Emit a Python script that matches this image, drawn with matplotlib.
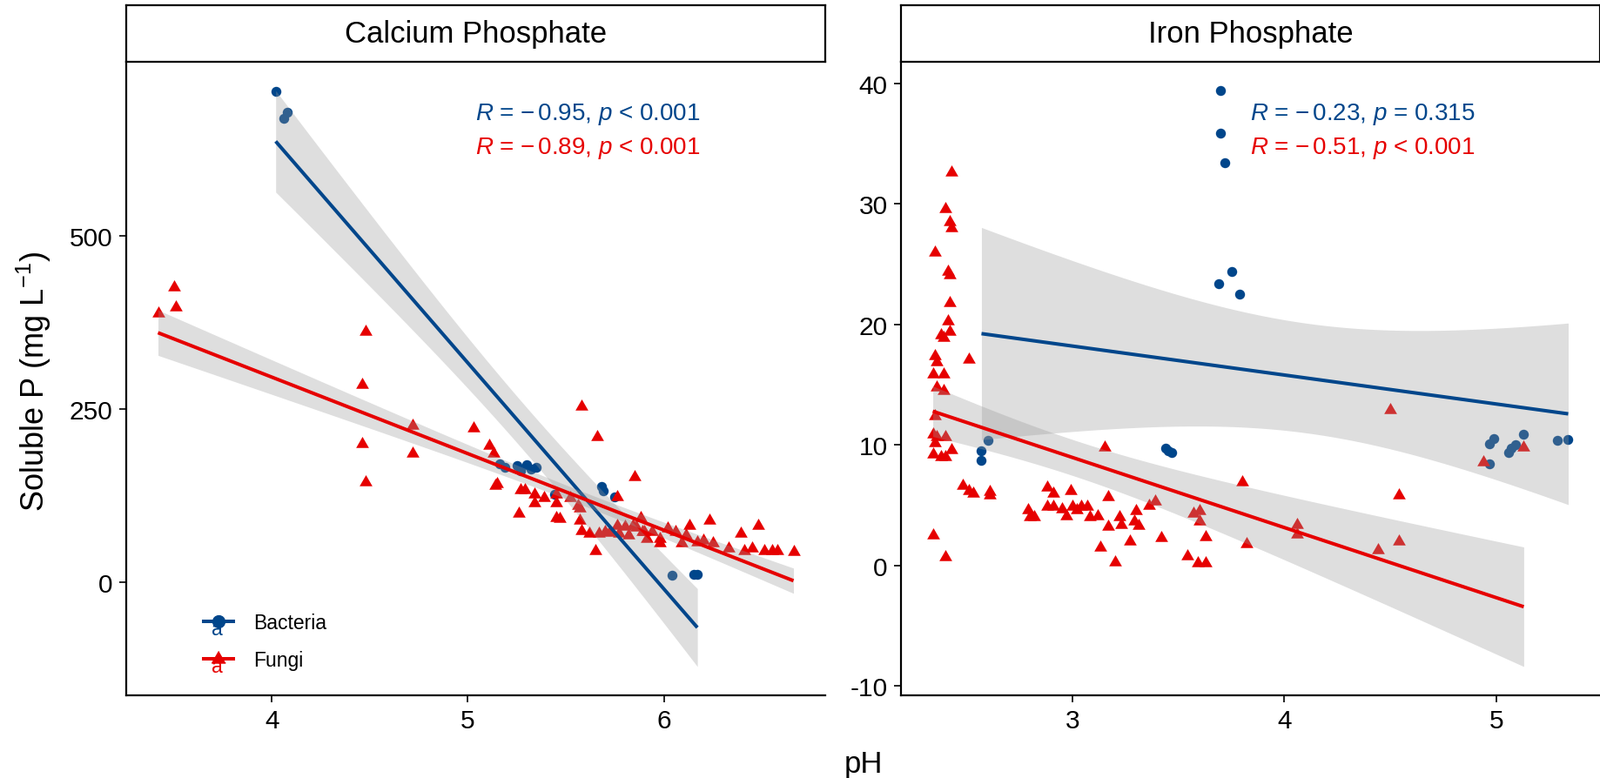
import numpy as np
import matplotlib.pyplot as plt
from matplotlib.legend_handler import HandlerBase
from matplotlib.lines import Line2D
from matplotlib.text import Text

plt.rcParams['font.family'] = ['Liberation Sans', 'DejaVu Sans']
plt.rcParams['mathtext.fontset'] = 'custom'
plt.rcParams['mathtext.rm'] = 'Liberation Sans'
plt.rcParams['mathtext.it'] = 'Liberation Sans:italic'
plt.rcParams['axes.unicode_minus'] = False

# ===== DATA =====
PANELS = ['Calcium Phosphate', 'Iron Phosphate']
GROUPS = ['Bacteria', 'Fungi']

ca_bacteria_ph = [4.02, 4.06, 4.08, 5.16, 5.19, 5.25, 5.27, 5.30, 5.32, 5.35, 5.44,
                  5.68, 5.69, 5.75, 6.04, 6.15, 6.17]
ca_bacteria_p = [708, 670, 679, 171, 165, 168, 161, 169, 163, 165, 127,
                 138, 131, 123, 9, 11, 11]

ca_fungi_ph = [3.42, 3.50, 3.51, 4.46, 4.46, 4.48, 4.48, 4.72, 4.72, 5.03, 5.11, 5.13,
               5.14, 5.15, 5.26, 5.27, 5.29, 5.34, 5.34, 5.39, 5.45, 5.45, 5.45, 5.47,
               5.52, 5.56, 5.57, 5.57, 5.58, 5.58, 5.62, 5.65, 5.66, 5.67, 5.70, 5.72,
               5.76, 5.76, 5.77, 5.80, 5.82, 5.84, 5.85, 5.86, 5.88, 5.89, 5.90, 5.91,
               5.94, 5.98, 5.98, 6.02, 6.06, 6.09, 6.11, 6.13, 6.17, 6.20, 6.23, 6.25,
               6.33, 6.39, 6.41, 6.45, 6.48, 6.51, 6.55, 6.58, 6.66]
ca_fungi_p = [388, 426, 397, 285, 199, 361, 144, 226, 186, 222, 197, 186,
              139, 142, 99, 133, 133, 127, 114, 121, 127, 114, 93, 91,
              121, 110, 106, 89, 253, 74, 70, 45, 209, 70, 72, 71,
              123, 81, 70, 80, 68, 81, 152, 79, 92, 72, 72, 62,
              72, 62, 56, 77, 72, 56, 68, 81, 58, 60, 89, 56,
              49, 70, 45, 49, 81, 45, 45, 45, 43]

fe_bacteria_ph = [2.57, 2.57, 2.60, 3.44, 3.45, 3.47, 3.69, 3.70, 3.70, 3.72, 3.75,
                  3.79, 4.97, 4.97, 4.99, 5.06, 5.07, 5.09, 5.13, 5.29, 5.34]
fe_bacteria_p = [9.55, 8.75, 10.4, 9.7, 9.55, 9.35, 23.4, 39.4, 35.9, 33.4, 24.4,
                 22.5, 10.1, 8.4, 10.5, 9.4, 9.7, 10.0, 10.9, 10.4, 10.45]

fe_fungi_ph = [2.43, 2.40, 2.42, 2.43, 2.35, 2.41, 2.42, 2.42, 2.41, 2.42, 2.38, 2.39,
               2.51, 2.35, 2.36, 2.34, 2.39, 2.36, 2.39, 2.35, 2.34, 2.36, 2.40, 2.35,
               2.34, 2.38, 2.40, 2.43, 2.34, 2.40,
               2.48, 2.51, 2.53, 2.61, 2.61, 2.79, 2.80, 2.82, 2.88, 2.88, 2.91, 2.91,
               2.95, 2.97, 2.99, 3.00, 3.02, 3.04, 3.07, 3.08, 3.12, 3.15, 3.13, 3.17,
               3.17, 3.20, 3.22, 3.23, 3.27, 3.29, 3.30, 3.31, 3.36, 3.39, 3.42, 3.54,
               3.57, 3.60, 3.60, 3.59, 3.63, 3.63, 3.80, 3.82, 4.06, 4.06, 4.44, 4.50,
               4.54, 4.54, 4.94, 5.13]
fe_fungi_p = [32.6, 29.6, 28.5, 28.0, 26.0, 24.4, 24.1, 21.8, 20.3, 19.4, 19.1, 18.9,
              17.1, 17.4, 16.9, 15.9, 15.9, 14.8, 14.5, 12.4, 10.9, 10.7, 10.7, 10.2,
              9.2, 9.0, 9.0, 9.6, 2.5, 0.7,
              6.6, 6.2, 6.0, 6.1, 5.8, 4.6, 4.0, 4.0, 6.5, 4.9, 6.0, 4.9,
              4.7, 4.1, 6.2, 4.9, 4.6, 4.9, 4.9, 4.0, 4.1, 9.8, 1.5, 5.7,
              3.2, 0.3, 4.0, 3.4, 2.0, 3.7, 4.5, 3.3, 5.0, 5.3, 2.3, 0.8,
              4.3, 4.5, 3.7, 0.2, 0.2, 2.35, 6.9, 1.8, 3.4, 2.6, 1.3, 12.9,
              5.8, 2.0, 8.6, 9.8]

# correlation labels printed on each panel
ca_stats = ['$\\it{R}$ = \u2212$\\,$0.95, $\\it{p}$ < 0.001',
            '$\\it{R}$ = \u2212$\\,$0.89, $\\it{p}$ < 0.001']
fe_stats = ['$\\it{R}$ = \u2212$\\,$0.23, $\\it{p}$ = 0.315',
            '$\\it{R}$ = \u2212$\\,$0.51, $\\it{p}$ < 0.001']

ca_xticks = [4, 5, 6]
ca_yticks = [0, 250, 500]
fe_xticks = [3, 4, 5]
fe_yticks = [-10, 0, 10, 20, 30, 40]

# ===== STYLE =====
COLORS = {'Bacteria': '#00468B', 'Fungi': '#E60000'}
TRIANGLE = [(0, 1), (-0.866, -0.5), (0.866, -0.5)]   # equilateral, like R's pch 17
MARKERS = {'Bacteria': 'o', 'Fungi': TRIANGLE}
SIZES = {'Bacteria': 68, 'Fungi': 150}
KEY_MS = {'Bacteria': 10, 'Fungi': 13}
BAND_COLOR = '#999999'
BAND_ALPHA = 0.32
LINE_W = 2.9


def t975(df):
    # Cornish-Fisher expansion of the 97.5% t quantile (no scipy here)
    z = 1.959964
    g1 = (z**3 + z) / 4
    g2 = (5 * z**5 + 16 * z**3 + 3 * z) / 96
    g3 = (3 * z**7 + 19 * z**5 + 17 * z**3 - 15 * z) / 384
    return z + g1 / df + g2 / df**2 + g3 / df**3


def lm_band(x, y, n_grid=80):
    # straight-line fit with 95% confidence band, like geom_smooth(method='lm')
    x = np.asarray(x, float)
    y = np.asarray(y, float)
    n = len(x)
    slope, icpt = np.polyfit(x, y, 1)
    resid = y - (slope * x + icpt)
    s = np.sqrt(np.sum(resid**2) / (n - 2))
    sxx = np.sum((x - x.mean())**2)
    xs = np.linspace(x.min(), x.max(), n_grid)
    ys = slope * xs + icpt
    half = t975(n - 2) * s * np.sqrt(1 / n + (xs - x.mean())**2 / sxx)
    return xs, ys, ys - half, ys + half


panel_data = [
    {'Bacteria': (ca_bacteria_ph, ca_bacteria_p), 'Fungi': (ca_fungi_ph, ca_fungi_p),
     'stats': ca_stats, 'xticks': ca_xticks, 'yticks': ca_yticks},
    {'Bacteria': (fe_bacteria_ph, fe_bacteria_p), 'Fungi': (fe_fungi_ph, fe_fungi_p),
     'stats': fe_stats, 'xticks': fe_xticks, 'yticks': fe_yticks},
]

# ===== FIGURE =====
W, H = 1838, 895
fig = plt.figure(figsize=(W / 100, H / 100), dpi=100)

ax_left = [145, 1035]
ax_width = 803
ax_top, ax_bottom = 72, 800
strip_top = 7

for i, (title, pdata) in enumerate(zip(PANELS, panel_data)):
    rect = [ax_left[i] / W, 1 - ax_bottom / H, ax_width / W, (ax_bottom - ax_top) / H]
    ax = fig.add_axes(rect)

    xs_all, ys_all = [], []
    for g in GROUPS:
        x, y = pdata[g]
        ax.scatter(x, y, s=SIZES[g], marker=MARKERS[g], color=COLORS[g],
                   linewidths=0, zorder=2)
        xs_all += list(x)
        ys_all += list(y)

    # ribbon + line per group, drawn over the points as in ggplot
    z = 3
    for g in GROUPS:
        x, y = pdata[g]
        fx, fy, lo, hi = lm_band(x, y)
        ax.fill_between(fx, lo, hi, color=BAND_COLOR, alpha=BAND_ALPHA,
                        linewidth=0, zorder=z)
        ax.plot(fx, fy, color=COLORS[g], lw=LINE_W, zorder=z + 1,
                solid_capstyle='butt')
        ys_all += list(lo) + list(hi)
        z += 2

    # 5% expansion of the data range
    x0, x1 = min(xs_all), max(xs_all)
    y0, y1 = min(ys_all), max(ys_all)
    ax.set_xlim(x0 - 0.05 * (x1 - x0), x1 + 0.05 * (x1 - x0))
    ax.set_ylim(y0 - 0.05 * (y1 - y0), y1 + 0.05 * (y1 - y0))

    ax.set_xticks(pdata['xticks'])
    ax.set_yticks(pdata['yticks'])
    ax.tick_params(direction='out', length=6, width=1.2, labelsize=21.5, pad=5,
                   colors='black')
    for side in ['top', 'right']:
        ax.spines[side].set_visible(False)
    for side in ['left', 'bottom']:
        ax.spines[side].set_linewidth(1.6)

    for k, g in enumerate(GROUPS):
        ax.text(0.50, 0.918 - k * 0.053, pdata['stats'][k], transform=ax.transAxes,
                color=COLORS[g], fontsize=20, ha='left', va='center')

    # facet strip
    srect = [ax_left[i] / W, 1 - ax_top / H, ax_width / W, (ax_top - strip_top) / H]
    sax = fig.add_axes(srect)
    sax.set_xticks([])
    sax.set_yticks([])
    for sp in sax.spines.values():
        sp.set_linewidth(1.6)
    sax.text(0.5, 0.5, title, ha='center', va='center', fontsize=25,
             transform=sax.transAxes)

    if i == 0:
        ax_first = ax


# ===== LEGEND =====
class KeyHandler(HandlerBase):
    def create_artists(self, legend, orig_handle, xdescent, ydescent,
                       width, height, fontsize, trans):
        c = orig_handle.get_color()
        cx = width / 2 - xdescent
        cy = height / 2 - ydescent
        line = Line2D([-xdescent, width - xdescent], [cy, cy], color=c, lw=LINE_W,
                      transform=trans)
        dot = Line2D([cx], [cy], marker=orig_handle.get_marker(),
                     ms=orig_handle.get_markersize(), color=c, lw=0, transform=trans)
        letter = Text(cx - 1, cy - height * 0.55, 'a', color=c, fontsize=fontsize,
                      ha='center', va='center', transform=trans)
        return [line, dot, letter]


handles = [Line2D([], [], color=COLORS[g], marker=MARKERS[g], ms=KEY_MS[g])
           for g in GROUPS]
ax_first.legend(handles, GROUPS, handler_map={Line2D: KeyHandler()},
                loc='lower left', bbox_to_anchor=(0.085, 0.012), frameon=False,
                fontsize=16.5, handlelength=1.5, handletextpad=1.0, labelspacing=0.85)

# ===== AXIS TITLES =====
fig.text(0.021, 1 - 438 / H, 'Soluble P (mg L$^{-1}$)', rotation=90, fontsize=26,
         ha='center', va='center')
fig.text(991.5 / W, 0.008, 'pH', fontsize=25, ha='center', va='baseline')

fig.savefig('out.png', dpi=100)
